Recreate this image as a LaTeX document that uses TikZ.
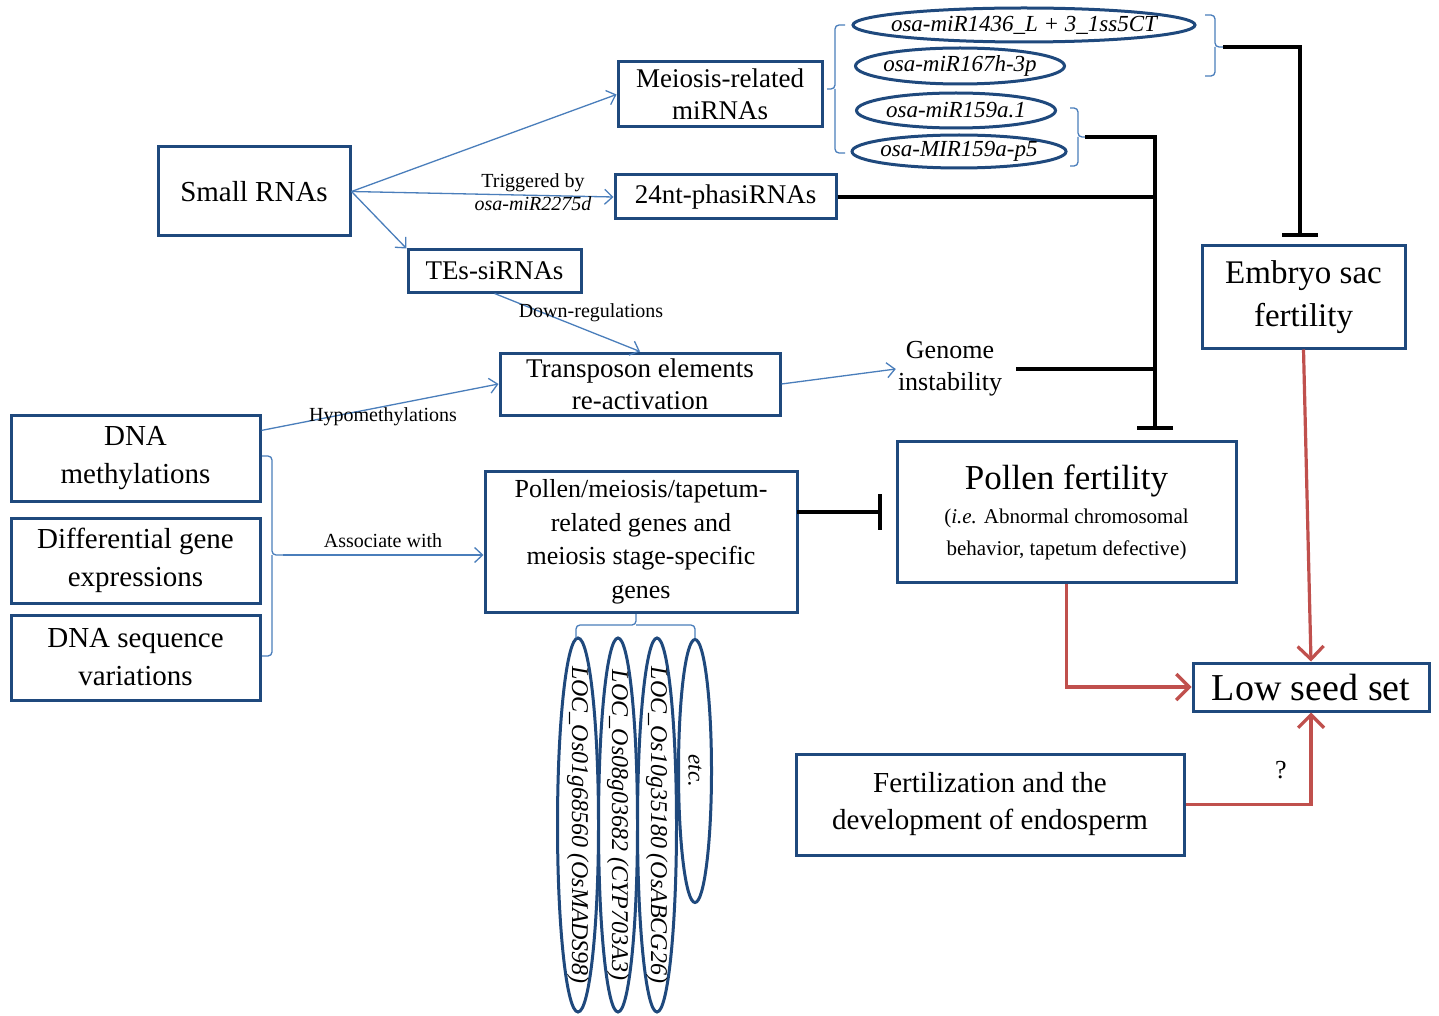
\documentclass[tikz,border=0pt]{standalone}
\usepackage{fontspec}
\setmainfont{Liberation Serif}
\usetikzlibrary{shapes.geometric,arrows.meta,calc}
\definecolor{boxblue}{RGB}{31,73,125}
\definecolor{lineblue}{RGB}{74,126,187}
\definecolor{redline}{RGB}{192,80,77}
\newcommand{\ovtext}[1]{\makebox[0pt]{#1}}
\tikzset{
 box/.style={draw=boxblue, line width=3pt, fill=white, align=center, inner sep=2pt, font=\fontsize{27}{32}\selectfont},
 oval/.style={ellipse, draw=boxblue, line width=3pt, fill=white, inner sep=0pt, font=\itshape\fontsize{23}{26}\selectfont},
 barrow/.style={draw=lineblue, line width=1.3pt, -{Straight Barb[length=8pt,width=15pt]}},
 brk/.style={draw=lineblue, line width=1.3pt, rounded corners=4pt},
 inhib/.style={draw=black, line width=4pt, -{Bar[width=36pt]}},
 plainline/.style={draw=black, line width=4pt},
 rarrow/.style={draw=redline, line width=3.2pt, -{Straight Barb[length=13pt,width=26pt]}},
 lbl/.style={font=\fontsize{20}{23}\selectfont, inner sep=1pt, align=center},
}
\begin{document}
\begin{tikzpicture}[x=1pt,y=-1pt]
\fill[white] (0,0) rectangle (1439,1016);
\useasboundingbox (0,0) rectangle (1439,1016);

% boxes
\node[box, minimum width=192, minimum height=89, font=\fontsize{29}{33}\selectfont] (small) at (254,191.5) {Small RNAs};
\node[box, minimum width=204, minimum height=65] (meiosis) at (720,94.5) {Meiosis-related\\miRNAs};
\node[box, minimum width=221, minimum height=44] (phasi) at (725.5,197) {24nt-phasiRNAs};
\node[box, minimum width=173, minimum height=42] (tes) at (494.5,271) {TEs-siRNAs};
\node[box, minimum width=280, minimum height=62] (trans) at (640,384) {Transposon elements\\re-activation};
\node[align=center, font=\fontsize{26}{32}\selectfont, inner sep=2pt] (genome) at (950,369) {Genome\\instability};
\node[box, minimum width=249, minimum height=86, font=\fontsize{29}{38}\selectfont] (dnam) at (135.5,458) {DNA\\methylations};
\node[box, minimum width=249, minimum height=85, font=\fontsize{29}{38}\selectfont] (dge) at (135.5,560.5) {Differential gene\\expressions};
\node[box, minimum width=249, minimum height=85, font=\fontsize{29}{38}\selectfont] (dsv) at (135.5,657.5) {DNA sequence\\variations};
\node[box, minimum width=312, minimum height=141, font=\fontsize{26}{33.5}\selectfont] (pmt) at (641,542) {Pollen/meiosis/tapetum-\\related genes and\\meiosis stage-specific\\genes};
\node[box, minimum width=339, minimum height=141] (pollen) at (1066.5,512) {{\fontsize{35}{38}\selectfont Pollen fertility}\\[2pt]{\fontsize{21}{29}\selectfont (\textit{i.e.} Abnormal chromosomal}\\{\fontsize{21}{29}\selectfont behavior, tapetum defective)}};
\node[box, minimum width=203, minimum height=102, font=\fontsize{33}{43}\selectfont] (embryo) at (1303.5,297) {Embryo sac\\fertility};
\node[box, minimum width=236, minimum height=48, font=\fontsize{38}{42}\selectfont] (low) at (1311,687) {Low seed set};
\node[box, minimum width=388, minimum height=101, font=\fontsize{29}{37}\selectfont] (fert) at (990,804.5) {Fertilization and the\\development of endosperm};

% miRNA ovals
\node[oval, minimum width=342, minimum height=34] (m1436) at (1024,25) {\ovtext{osa-miR1436\_L + 3\_1ss5CT}};
\node[oval, minimum width=209, minimum height=36] (m167) at (960,66) {\ovtext{osa-miR167h-3p}};
\node[oval, minimum width=199, minimum height=35] (m159a) at (956,110.5) {\ovtext{osa-miR159a.1}};
\node[oval, minimum width=214, minimum height=33] (m159p) at (959,151.5) {\ovtext{osa-MIR159a-p5}};

% gene ovals
\node[oval, rotate=-90, minimum width=374, minimum height=41, font=\itshape\fontsize{24}{26}\selectfont] (g1) at (578,825) {\ovtext{LOC\_Os01g68560 (OsMADS98)}};
\node[oval, rotate=-90, minimum width=374, minimum height=39, font=\itshape\fontsize{24}{26}\selectfont] (g2) at (618,825) {\ovtext{LOC\_Os08g03682 (CYP703A3)}};
\node[oval, rotate=-90, minimum width=374, minimum height=39, font=\itshape\fontsize{24}{26}\selectfont] (g3) at (657,825) {\ovtext{LOC\_Os10g35180 (OsABCG26)}};
\node[oval, rotate=-90, minimum width=263, minimum height=33] (g4) at (695,771) {\ovtext{etc.}};

% brackets
\draw[brk] (845,25) -- (835,25) -- (835,89) -- (827,89);
\draw[brk] (835,89) -- (835,153) -- (845,153);
\draw[brk] (1205,15) -- (1215,15) -- (1215,47) -- (1223,47);
\draw[brk] (1215,47) -- (1215,76) -- (1205,76);
\draw[brk] (1070,108) -- (1078,108) -- (1078,137) -- (1085,137);
\draw[brk] (1078,137) -- (1078,166) -- (1070,166);
\draw[brk] (262,456) -- (272,456) -- (272,555) -- (283,555);
\draw[brk] (272,555) -- (272,656) -- (262,656);
\draw[brk] (576,638) -- (576,625) -- (636,625) -- (636,614);
\draw[brk] (636,625) -- (695,625) -- (695,638);

\coordinate (topbr) at (1223,47);
\coordinate (botbr) at (1085,137);
\coordinate (dnabr) at (283,555);
\coordinate (jA) at (1300,47);
\coordinate (jB) at (1155,137);
\coordinate (embT) at (1300,237);
\coordinate (polT) at (1155,430);
\coordinate (pmtT) at (882,512);
\coordinate (pmtS) at (797,512);

% blue arrows
\draw[barrow] (small.east) -- (meiosis.west);
\draw[barrow] (small.east) -- (phasi.west);
\draw[barrow] (small.east) -- (tes.north west);
\draw[barrow] (tes.south) -- (trans.north);
\draw[barrow] ($(dnam.north east)!0.19!(dnam.south east)$) -- (trans.west);
\draw[barrow] (trans.east) -- (genome.west);
\draw[barrow] (dnabr) -- (dnabr -| pmt.west);

% labels
\node[lbl] (ltrig) at (533,192) {Triggered by\\\textit{osa-miR2275d}};
\node[lbl] (ldown) at (591,313) {Down-regulations};
\node[lbl] (lhypo) at (383,417) {Hypomethylations};
\node[lbl] (lassoc) at (383,541) {Associate with};

% black inhibition lines
\draw[inhib] (topbr) -- (jA) -- (embT);
\draw[inhib] (botbr) -- (jB) -- (polT);
\draw[plainline] (phasi.east) -- (phasi.east -| jB);
\draw[plainline] ($(genome.east)+(12,0)$) -- (genome.east -| jB);
\draw[inhib] (pmtS) -- (pmtT);

% red arrows
\draw[rarrow] (pollen.south) |- (low.west);
\draw[rarrow] (embryo.south) -- (low.north);
\draw[rarrow] (fert.east) -| (low.south);
\node[font=\fontsize{26}{30}\selectfont] (q) at (1281,770) {?};
\end{tikzpicture}
\end{document}
